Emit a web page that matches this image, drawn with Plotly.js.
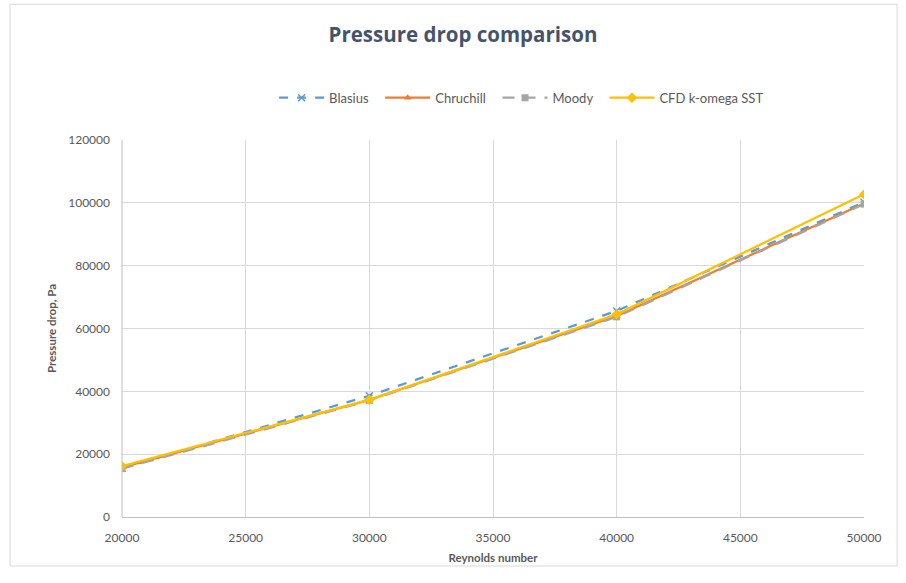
<!DOCTYPE html>
<html>
<head>
<meta charset="utf-8">
<script src="https://cdn.plot.ly/plotly-3.0.1.min.js"></script>
<style>html,body{margin:0;padding:0;background:#fff;}#chart{width:906px;height:583px;}</style>
</head>
<body>
<div id="chart"></div>
<script>
const reynolds = [20000, 30000, 40000, 50000];
const blasius = [15500, 38600, 65600, 100200];
const churchill = [15800, 37300, 64000, 99800];
const moody = [15400, 37100, 63700, 99600];
const cfd = [16200, 37300, 64500, 102700];
const seriesNames = ["Blasius", "Chruchill", "Moody", "CFD k-omega SST"];
const xTicks = [20000, 25000, 30000, 35000, 40000, 45000, 50000];
const yTicks = [0, 20000, 40000, 60000, 80000, 100000, 120000];

const pad = "\u00a0\u00a0";
const traces = [
  {x: reynolds, y: blasius, name: seriesNames[0] + pad, mode: "lines+markers",
   line: {color: "#5B9BD5", width: 2.25, dash: "dash"},
   marker: {symbol: "x-thin", size: 7, color: "#5B9BD5", line: {color: "#5B9BD5", width: 1.5}}},
  {x: reynolds, y: churchill, name: seriesNames[1] + pad, mode: "lines+markers",
   line: {color: "#ED7D31", width: 2.25},
   marker: {symbol: "triangle-up", size: 7, color: "#ED7D31"}},
  {x: reynolds, y: moody, name: seriesNames[2] + pad, mode: "lines+markers",
   line: {color: "#A5A5A5", width: 2.25, dash: "12px,9px"},
   marker: {symbol: "square", size: 7, color: "#A5A5A5"}},
  {x: reynolds, y: cfd, name: seriesNames[3], mode: "lines+markers",
   line: {color: "#FFC000", width: 2.25},
   marker: {symbol: "diamond", size: 8, color: "#FFC000"}}
];

const layout = {
  width: 906, height: 583,
  paper_bgcolor: "#fff", plot_bgcolor: "#fff",
  font: {family: "Lato, 'Open Sans', sans-serif", color: "#595959", size: 12},
  margin: {l: 122, r: 42, t: 140, b: 66},
  title: {text: "<b>Pressure drop comparison</b>", x: 0.511, xanchor: "center", y: 0.94, yanchor: "middle",
          font: {family: "'Open Sans', Lato, sans-serif", size: 20.5, color: "#44546A"}},
  showlegend: true,
  legend: {orientation: "h", x: 0.205, xanchor: "left", y: 1.112, yanchor: "middle",
           font: {size: 13, color: "#595959"}, traceorder: "normal", itemwidth: 45},
  xaxis: {range: [20000, 50000], tickvals: xTicks, ticktext: xTicks.map(String),
          showgrid: true, gridcolor: "#D9D9D9", gridwidth: 1,
          showline: true, linecolor: "#BFBFBF", linewidth: 1, zeroline: false,
          ticks: "", ticklabelstandoff: 10, tickfont: {size: 12, color: "#595959"},
          title: {text: "<b>Reynolds number</b>", font: {size: 11.5, color: "#595959"}, standoff: 9}},
  yaxis: {range: [0, 120000], tickvals: yTicks, ticktext: yTicks.map(String),
          showgrid: true, gridcolor: "#D9D9D9", gridwidth: 1,
          showline: false, zeroline: false, ticks: "", ticklen: 0, ticklabelstandoff: 11,
          tickfont: {size: 12, color: "#595959"},
          title: {text: "<b>Pressure drop, Pa</b>", font: {size: 11.5, color: "#595959"}, standoff: 9}},
  shapes: [
    {type: "line", xref: "paper", yref: "paper", x0: 0, x1: 0, y0: 0, y1: 1,
     line: {color: "#BFBFBF", width: 1}},
    {type: "rect", xref: "paper", yref: "paper", x0: -0.1509, x1: 1.0445, y0: -0.13, y1: 1.36,
     line: {color: "#D9D9D9", width: 1}, layer: "below"}
  ]
};

Plotly.newPlot("chart", traces, layout, {staticPlot: true, displayModeBar: false});
</script>
</body>
</html>
